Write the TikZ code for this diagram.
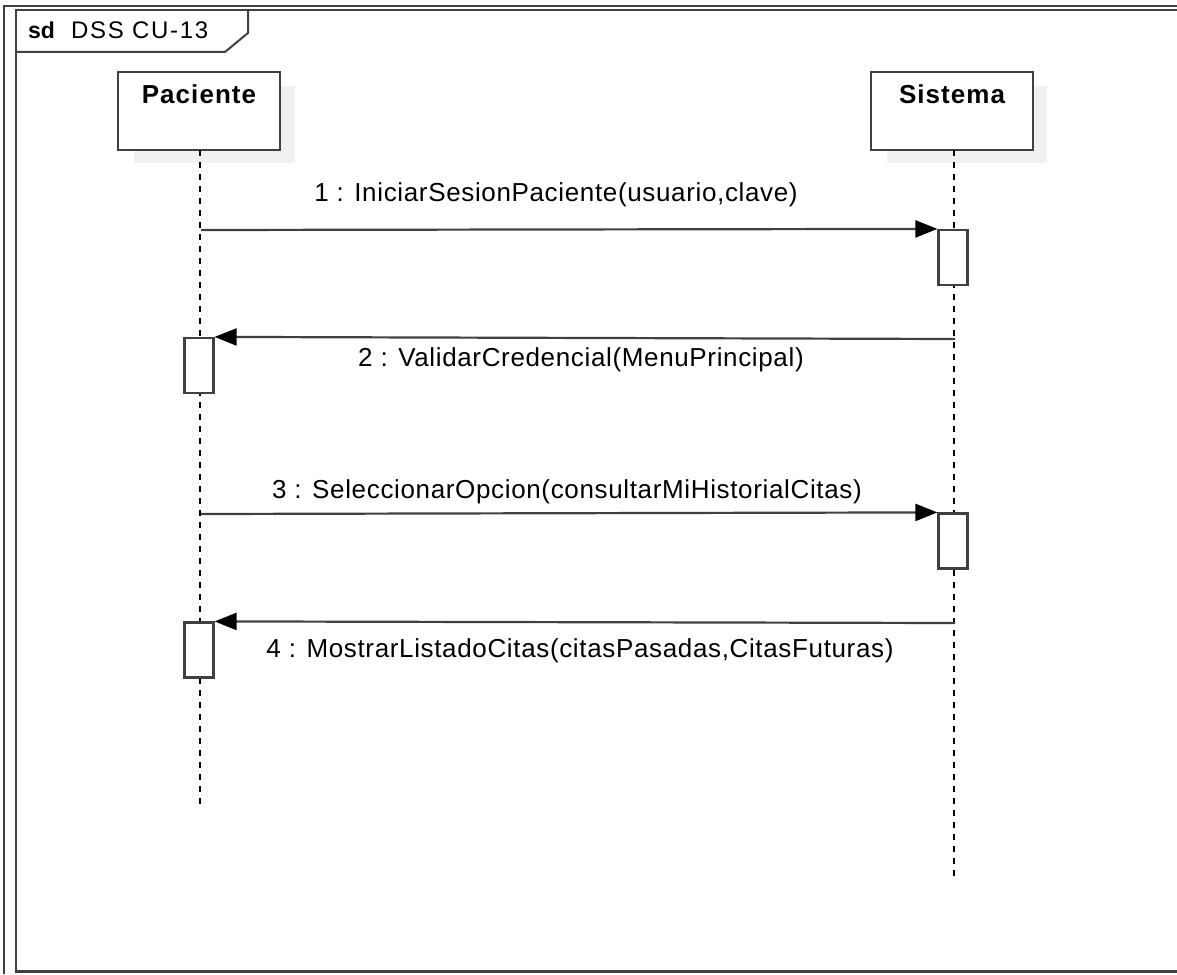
\documentclass[tikz,border=0pt]{standalone}
\usepackage{fontspec}
\setmainfont{Liberation Sans}
\usetikzlibrary{arrows.meta,calc}

\definecolor{edgegray}{HTML}{404040}
\definecolor{shadowgray}{HTML}{F0F0F0}

\tikzset{
  frameline/.style={draw=edgegray, line width=2.5pt},
  actorbox/.style={draw=edgegray, line width=2.2pt, fill=white,
    minimum width=162pt, minimum height=78pt, inner sep=0pt},
  actorname/.style={anchor=base, inner sep=0pt,
    font=\fontsize{26}{30}\selectfont\bfseries\addfontfeatures{LetterSpace=4}},
  lifeline/.style={draw=black, line width=2pt, dash pattern=on 6pt off 6pt},
  actbox/.style={draw=edgegray, line width=2.2pt, fill=white,
    minimum width=29pt, minimum height=55pt, inner sep=0pt},
  msg/.style={draw=edgegray, line width=2.2pt,
    -{Triangle[length=22pt,width=17pt,color=black]}},
  msglabel/.style={anchor=base, inner sep=0pt,
    font=\fontsize{26}{30}\selectfont\addfontfeatures{LetterSpace=2.5}},
}

\begin{document}
\begin{tikzpicture}[x=1pt,y=-1pt]
\useasboundingbox (0,0) rectangle (1177,974);

% outer border and interaction frame
\draw[frameline, line width=2pt] (4,974) -- (4,6) -- (1177,6);
\draw[frameline] (1177,10) -- (16,10) -- (16,971.5) -- (1177,971.5);
\draw[frameline, line width=2pt] (16,52) -- (225,52) -- (248,33) -- (248,10);
\node[anchor=base west, inner sep=0pt, font=\fontsize{23}{27}\selectfont\bfseries] (sdtag) at (28,38) {sd};
\node[anchor=base west, inner sep=0pt, font=\fontsize{24}{28}\selectfont\addfontfeatures{LetterSpace=7}] (sdname) at (71,38) {DSS CU-13};

% participants with soft shadows
\fill[shadowgray] (134,86) rectangle (295,163);
\fill[shadowgray] (887,86) rectangle (1047,163);
\node[actorbox] (pac) at (199,111) {};
\node[actorbox] (sis) at (952,111) {};
\node[actorname] (pacname) at ($(pac.north)+(0,33)$) {Paciente};
\node[actorname] (sisname) at ($(sis.north)+(0,33)$) {Sistema};

% lifelines
\coordinate (pacend) at (200,808);
\coordinate (sisend) at (954,877);
\draw[lifeline] (200,150) -- (pacend);
\draw[lifeline] (954,150) -- (sisend);

% activation bars
\node[actbox] (a1) at (953,257.5) {};
\node[actbox] (a2) at (199,365.5) {};
\node[actbox] (a3) at (953,541) {};
\node[actbox] (a4) at (199,650) {};

% message start points on the lifelines
\coordinate (m1) at (201,230);
\coordinate (m2) at (955,339);
\coordinate (m3) at (201,514);
\coordinate (m4) at (955,623);

% messages
\draw[msg] (m1) -- (a1.north west);
\draw[msg] (m2) -- (a2.north east);
\draw[msg] (m3) -- (a3.north west);
\draw[msg] (m4) -- (a4.north east);

\node[msglabel] (l1) at (556,201) {1 : IniciarSesionPaciente(usuario,clave)};
\node[msglabel] (l2) at (581,366) {2 : ValidarCredencial(MenuPrincipal)};
\node[msglabel] (l3) at (567,498) {3 : SeleccionarOpcion(consultarMiHistorialCitas)};
\node[msglabel] (l4) at (580,657) {4 : MostrarListadoCitas(citasPasadas,CitasFuturas)};
\end{tikzpicture}
\end{document}
